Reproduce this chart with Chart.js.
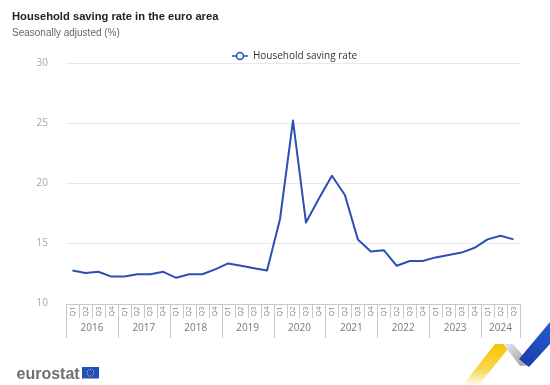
<!DOCTYPE html>
<html>
<head>
<meta charset="utf-8">
<title>Household saving rate in the euro area</title>
<script src="https://cdn.jsdelivr.net/npm/chart.js@4.4.1/dist/chart.umd.min.js"></script>
<style>
  html, body { margin: 0; padding: 0; background: #fff; }
  canvas { display: block; }
</style>
</head>
<body>
<canvas id="savingChart" width="550" height="385"></canvas>
<script>
const titleText = 'Household saving rate in the euro area'
const subtitleText = 'Seasonally adjusted (%)'
const seriesName = 'Household saving rate'

const years = ['2016', '2017', '2018', '2019', '2020', '2021', '2022', '2023', '2024']
const quarters = ['Q1', 'Q2', 'Q3', 'Q4']
const savingRate = [
    12.7, 12.5, 12.6, 12.2,
    12.2, 12.4, 12.4, 12.6,
    12.1, 12.4, 12.4, 12.8,
    13.3, 13.1, 12.9, 12.7,
    17.0, 25.2, 16.7, 18.7,
    20.6, 19.0, 15.3, 14.3,
    14.4, 13.1, 13.5, 13.5,
    13.8, 14.0, 14.2, 14.6,
    15.3, 15.6, 15.3
]
const yTicks = [10, 15, 20, 25, 30]

// category labels: one per quarter, as many as there are values
const periods = []
years.forEach(y => quarters.forEach(q => periods.push(y + '-' + q)))
periods.length = savingRate.length

const SANS = '"Liberation Sans", Arial, sans-serif'
const OPEN = '"Open Sans", sans-serif'
const lineBlue = '#2c4fb6'

// title, legend, two-level x axis, logo and corner ribbon
const frame = {
    id: 'frame',
    afterDraw(chart) {
        const ctx = chart.ctx
        const area = chart.chartArea
        const x = chart.scales.x
        const n = periods.length
        ctx.save()

        ctx.textAlign = 'left'
        ctx.textBaseline = 'alphabetic'
        ctx.fillStyle = '#222'
        ctx.font = 'bold 11.2px ' + SANS
        ctx.fillText(titleText, 12, 19.5)
        ctx.fillStyle = '#666'
        ctx.font = '10px ' + SANS
        ctx.fillText(subtitleText, 12, 36)

        // legend
        ctx.font = '10px ' + OPEN
        const tw = ctx.measureText(seriesName).width
        const lx = (area.left + area.right) / 2 - (21 + tw) / 2 + 1.5
        const ly = 56
        ctx.strokeStyle = lineBlue
        ctx.lineWidth = 1.5
        ctx.beginPath()
        ctx.moveTo(lx, ly)
        ctx.lineTo(lx + 16, ly)
        ctx.stroke()
        ctx.beginPath()
        ctx.arc(lx + 8, ly, 3.5, 0, Math.PI * 2)
        ctx.fillStyle = '#fff'
        ctx.fill()
        ctx.stroke()
        ctx.fillStyle = '#333'
        ctx.textBaseline = 'middle'
        ctx.fillText(seriesName, lx + 21, ly)

        // x axis boxes
        const step = x.getPixelForValue(1) - x.getPixelForValue(0)
        const top = Math.round(area.bottom) + 1
        ctx.strokeStyle = '#c8c8c8'
        ctx.lineWidth = 1
        ctx.beginPath()
        ctx.moveTo(x.left, top + 0.5)
        ctx.lineTo(x.right, top + 0.5)
        for (let i = 0; i <= n; i++) {
            const px = Math.round(i < n ? x.getPixelForValue(i) - step / 2 : x.right) + 0.5
            const long = i % 4 === 0 || i === n
            ctx.moveTo(px, top)
            ctx.lineTo(px, top + (long ? 34 : 14))
        }
        ctx.stroke()

        ctx.textAlign = 'center'
        ctx.textBaseline = 'middle'
        ctx.fillStyle = '#888'
        ctx.font = '7.5px ' + OPEN
        for (let i = 0; i < n; i++) {
            ctx.save()
            ctx.translate(x.getPixelForValue(i), top + 7.5)
            ctx.rotate(-Math.PI / 2)
            ctx.fillText(quarters[i % 4], 0, 0)
            ctx.restore()
        }
        ctx.fillStyle = '#777'
        ctx.font = '10px ' + OPEN
        years.forEach((yr, k) => {
            const a = x.getPixelForValue(k * 4)
            const b = x.getPixelForValue(Math.min(k * 4 + 3, n - 1))
            ctx.fillText(yr, (a + b) / 2, top + 24)
        })

        // eurostat logo
        ctx.textAlign = 'left'
        ctx.textBaseline = 'alphabetic'
        ctx.fillStyle = '#707070'
        ctx.font = 'bold 16px ' + SANS
        ctx.fillText('eurostat', 16.5, 378.5)
        ctx.fillStyle = '#1f4fbf'
        ctx.fillRect(82, 367, 17, 11.5)
        ctx.fillStyle = '#f2d546'
        for (let s = 0; s < 12; s++) {
            const a = s * Math.PI / 6
            ctx.beginPath()
            ctx.arc(90.5 + Math.cos(a) * 3.4, 372.7 + Math.sin(a) * 3.4, 0.5, 0, Math.PI * 2)
            ctx.fill()
        }

        // corner ribbon
        const yellow = ctx.createLinearGradient(0, 344, 0, 386)
        yellow.addColorStop(0, '#f6c400')
        yellow.addColorStop(0.6, 'rgba(246,196,0,0.7)')
        yellow.addColorStop(1, 'rgba(246,196,0,0)')
        ctx.fillStyle = yellow
        ctx.beginPath()
        ctx.moveTo(462, 386); ctx.lineTo(478, 386); ctx.lineTo(512, 344); ctx.lineTo(495, 344)
        ctx.closePath()
        ctx.fill()

        const grey = ctx.createLinearGradient(505, 344, 528, 366)
        grey.addColorStop(0, '#e6e6e6')
        grey.addColorStop(1, '#9c9c9c')
        ctx.fillStyle = grey
        ctx.beginPath()
        ctx.moveTo(503, 344); ctx.lineTo(513, 344); ctx.lineTo(531, 365); ctx.lineTo(520, 366)
        ctx.closePath()
        ctx.fill()

        const blue = ctx.createLinearGradient(520, 366, 550, 322)
        blue.addColorStop(0, '#1a3fa8')
        blue.addColorStop(1, '#2659d0')
        ctx.fillStyle = blue
        ctx.beginPath()
        ctx.moveTo(519, 359); ctx.lineTo(529, 367); ctx.lineTo(550, 344); ctx.lineTo(550, 322)
        ctx.closePath()
        ctx.fill()

        ctx.restore()
    }
}

new Chart('savingChart', {
    type: 'line',
    data: {
        labels: periods,
        datasets: [{
            label: seriesName,
            data: savingRate,
            borderColor: lineBlue,
            borderWidth: 2,
            borderJoinStyle: 'round',
            pointRadius: 0,
            tension: 0,
            fill: false
        }]
    },
    options: {
        responsive: false,
        animation: false,
        layout: { padding: { top: 63, left: 12, right: 30, bottom: 0 } },
        plugins: {
            legend: { display: false },
            title: { display: false },
            tooltip: { enabled: false }
        },
        scales: {
            x: {
                offset: true,
                ticks: { display: false },
                grid: { display: false },
                border: { display: false },
                afterFit: s => { s.height = 82 }
            },
            y: {
                min: 10,
                max: 30,
                afterBuildTicks: s => { s.ticks = yTicks.map(v => ({ value: v })) },
                afterFit: s => { s.width = 54 },
                ticks: {
                    color: '#a6a6a6',
                    padding: 18,
                    font: { family: OPEN, size: 10 }
                },
                grid: {
                    drawTicks: false,
                    color: c => c.tick.value === 10 ? 'rgba(0,0,0,0)' : '#e8e8e8'
                },
                border: { display: false }
            }
        }
    },
    plugins: [frame]
});
</script>
</body>
</html>
